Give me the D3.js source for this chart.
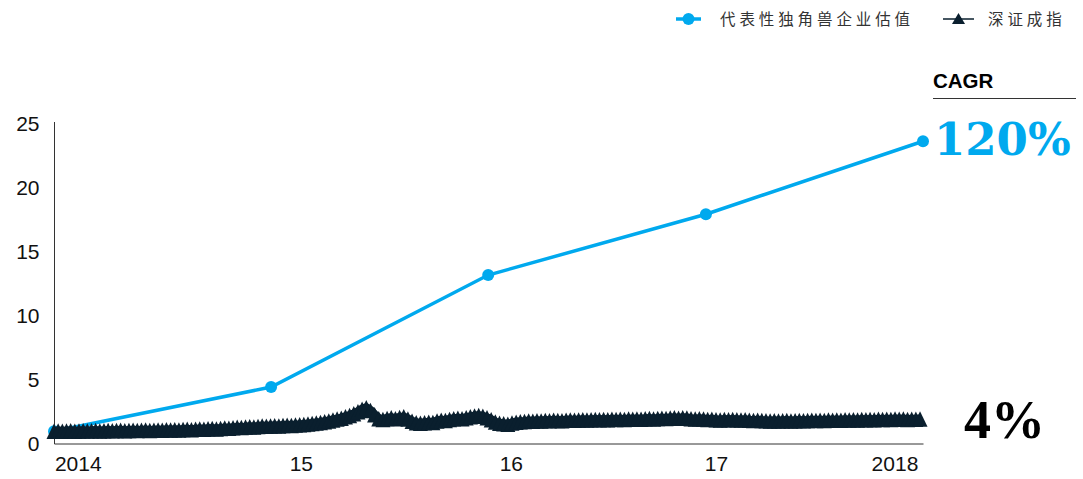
<!DOCTYPE html>
<html>
<head>
<meta charset="utf-8">
<script src="https://cdn.jsdelivr.net/npm/d3@7"></script>
<style>
  html, body { margin: 0; padding: 0; background: #fff; }
  svg { display: block; }
</style>
</head>
<body>
<svg id="chart" width="1083" height="479"></svg>
<script>
// Representative unicorn valuation, indexed to 1 at the start of 2014
const unicornDates = ["2014-01-01", "2015-01-01", "2016-01-01", "2017-01-01", "2018-01-01"];
const unicornValues = [1.0, 4.45, 13.2, 17.95, 23.65];

// Shenzhen Component Index, weekly closes indexed to 1 at the start of 2014
const sz2014 = [
  1.00, 1.02, 0.99, 1.01, 1.03, 1.00, 1.02, 1.04, 1.01, 1.03, 1.05, 1.02,
  1.04, 1.06, 1.03, 1.05, 1.07, 1.04, 1.06, 1.08, 1.05, 1.07, 1.09, 1.06,
  1.08, 1.10, 1.08, 1.11, 1.09, 1.12, 1.10, 1.13, 1.15, 1.12, 1.16, 1.18,
  1.15, 1.19, 1.21, 1.18, 1.22, 1.25, 1.23, 1.27, 1.30, 1.28, 1.32, 1.35,
  1.33, 1.37, 1.40, 1.38
];
const sz2015 = [
  1.40, 1.42, 1.40, 1.44, 1.46, 1.44, 1.48, 1.50, 1.53, 1.56, 1.60, 1.64,
  1.68, 1.74, 1.80, 1.88, 1.95, 2.02, 2.12, 2.22, 2.36, 2.52, 2.72, 2.84,
  2.62, 2.28, 1.98, 1.92, 2.00, 2.06, 1.98, 2.08, 2.12, 1.95, 1.78, 1.66,
  1.62, 1.66, 1.70, 1.68, 1.80, 1.86, 1.84, 1.92, 1.98, 2.02, 1.98, 2.06,
  2.12, 2.18, 2.22, 2.16
];
const sz2016 = [
  2.05, 1.90, 1.72, 1.62, 1.58, 1.55, 1.64, 1.70, 1.74, 1.76, 1.80, 1.78,
  1.82, 1.80, 1.84, 1.82, 1.86, 1.84, 1.82, 1.86, 1.88, 1.85, 1.88, 1.90,
  1.87, 1.90, 1.92, 1.89, 1.92, 1.90, 1.93, 1.91, 1.94, 1.92, 1.95, 1.93,
  1.96, 1.94, 1.97, 1.99, 1.96, 2.00, 2.02, 1.99, 2.03, 2.05, 2.02, 2.06,
  2.03, 1.98, 1.95, 1.97
];
const sz2017 = [
  1.96, 1.92, 1.94, 1.90, 1.88, 1.91, 1.89, 1.92, 1.90, 1.87, 1.89, 1.86,
  1.84, 1.86, 1.83, 1.81, 1.80, 1.82, 1.79, 1.81, 1.83, 1.80, 1.82, 1.84,
  1.81, 1.83, 1.85, 1.83, 1.86, 1.84, 1.87, 1.85, 1.88, 1.86, 1.89, 1.87,
  1.90, 1.88, 1.91, 1.89, 1.92, 1.90, 1.93, 1.91, 1.94, 1.92, 1.95, 1.93,
  1.95, 1.92, 1.94, 1.93, 1.95
];

// Axis ticks and labels
const yTicks = [0, 5, 10, 15, 20, 25];
const xTickDates = ["2014-02-10", "2015-02-20", "2016-02-08", "2017-01-18", "2017-11-14"];
const xTickLabels = ["2014", "15", "16", "17", "2018"];

// Legend and annotation text
const seriesNames = ["代表性独角兽企业估值", "深证成指"];
const cagrTitle = "CAGR";
const cagrValues = ["120%", "4%"];

const BLUE = "#00a9ee";
const NAVY = "#0a1f2e";
const AXIS = "#333333";

const parse = d3.timeParse("%Y-%m-%d");
const svg = d3.select("#chart");

const x = d3.scaleTime()
  .domain([parse("2014-01-01"), parse("2018-01-01")])
  .range([54, 923]);
const y = d3.scaleLinear().domain([0, 25]).range([444, 124]);

// weekly observation dates for the index series
const szStart = parse("2014-01-01");
const szValues = [].concat(sz2014, sz2015, sz2016, sz2017);
const szData = szValues.map((v, i) => ({ date: d3.timeDay.offset(szStart, 7 * i), value: v }));
const unicornData = unicornDates.map((d, i) => ({ date: parse(d), value: unicornValues[i] }));

// Axes
const yAxis = d3.axisLeft(y).tickValues(yTicks).tickSize(0).tickPadding(15).tickSizeOuter(0);
const gy = svg.append("g").attr("transform", "translate(54.5,0)").call(yAxis);
gy.select(".domain").attr("stroke", AXIS).attr("d", `M0,${y(0)}V122`);
gy.selectAll("text")
  .attr("font-family", "Liberation Sans, Arial, sans-serif")
  .attr("font-size", 21).attr("fill", "#111");

const xAxis = d3.axisBottom(x)
  .tickValues(xTickDates.map(parse))
  .tickFormat((d, i) => xTickLabels[i])
  .tickSize(0).tickPadding(13).tickSizeOuter(0);
const gx = svg.append("g").attr("transform", `translate(0,${y(0) - 0.5})`).call(xAxis);
gx.select(".domain").attr("stroke", AXIS);
gx.selectAll("text")
  .attr("font-family", "Liberation Sans, Arial, sans-serif")
  .attr("font-size", 21).attr("fill", "#111");

// Unicorn valuation line with dots
const line = d3.line().x(d => x(d.date)).y(d => y(d.value));
svg.append("path").datum(unicornData)
  .attr("d", line).attr("fill", "none")
  .attr("stroke", BLUE).attr("stroke-width", 3.5);
svg.append("g").selectAll("circle").data(unicornData).join("circle")
  .attr("cx", d => x(d.date)).attr("cy", d => y(d.value))
  .attr("r", 6).attr("fill", BLUE);

// Index line with dense triangle markers
const tri = (w, h) => `M0,${-h / 2}L${w / 2},${h / 2}L${-w / 2},${h / 2}Z`;
svg.append("path").datum(szData)
  .attr("d", line).attr("fill", "none")
  .attr("stroke", NAVY).attr("stroke-width", 9).attr("stroke-linejoin", "round");
svg.append("g").selectAll("path").data(szData).join("path")
  .attr("transform", d => `translate(${x(d.date)},${y(d.value)})`)
  .attr("d", tri(15, 15.5)).attr("fill", NAVY);

// Legend
const legend = svg.append("g")
  .attr("font-family", "'Noto Sans CJK SC', sans-serif")
  .attr("font-size", 15.5).attr("fill", "#333");
legend.append("line").attr("x1", 676).attr("x2", 701).attr("y1", 19).attr("y2", 19)
  .attr("stroke", BLUE).attr("stroke-width", 3.5);
legend.append("circle").attr("cx", 688.5).attr("cy", 19).attr("r", 6).attr("fill", BLUE);
legend.append("text").attr("x", 720).attr("y", 19).attr("dy", "0.36em")
  .attr("letter-spacing", 3.9).text(seriesNames[0]);
legend.append("line").attr("x1", 943).attr("x2", 974).attr("y1", 19).attr("y2", 19)
  .attr("stroke", NAVY).attr("stroke-width", 1.5);
legend.append("path").attr("transform", "translate(958.5,18.5)")
  .attr("d", tri(13, 11)).attr("fill", NAVY);
legend.append("text").attr("x", 988).attr("y", 19).attr("dy", "0.36em")
  .attr("letter-spacing", 3.9).text(seriesNames[1]);

// CAGR annotations
svg.append("text").attr("x", 933).attr("y", 88)
  .attr("font-family", "Liberation Sans, Arial, sans-serif")
  .attr("font-weight", "bold").attr("font-size", 20.5).attr("fill", "#000")
  .text(cagrTitle);
svg.append("line").attr("x1", 933).attr("x2", 1076).attr("y1", 98.5).attr("y2", 98.5)
  .attr("stroke", AXIS).attr("stroke-width", 1);
svg.append("text").attr("x", 934).attr("y", 155)
  .attr("font-family", "'DejaVu Serif', serif")
  .attr("font-weight", "bold").attr("font-size", 45).attr("fill", BLUE)
  .text(cagrValues[0]);
svg.append("text").attr("x", 964).attr("y", 438)
  .attr("font-family", "'Liberation Serif', 'Times New Roman', serif")
  .attr("font-weight", "bold").attr("font-size", 54).attr("fill", "#000")
  .text(cagrValues[1]);
</script>
</body>
</html>
